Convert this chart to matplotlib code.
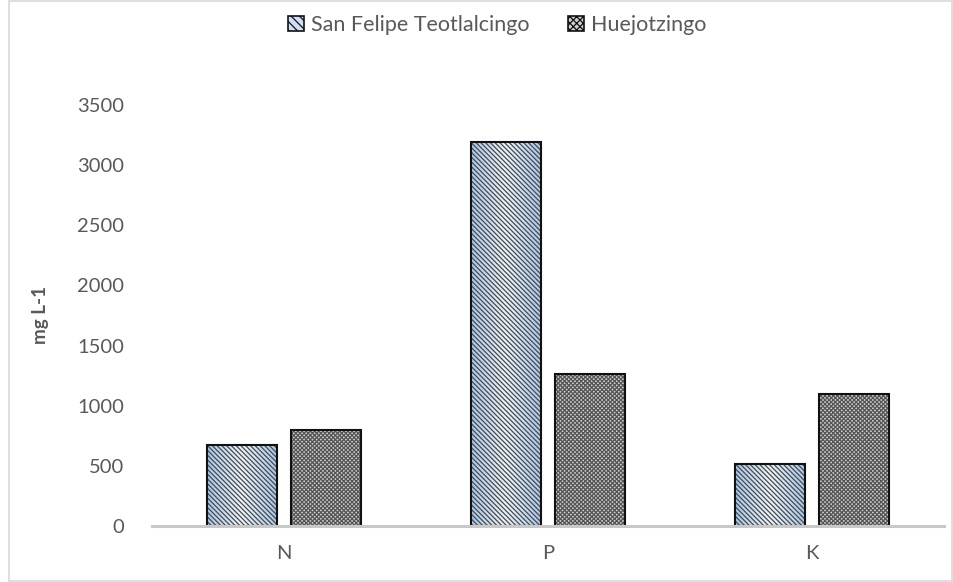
import numpy as np
import matplotlib.pyplot as plt
from matplotlib.colors import LinearSegmentedColormap
from matplotlib.patches import Rectangle

plt.rcParams["font.family"] = ["Lato", "DejaVu Sans"]
plt.rcParams["hatch.linewidth"] = 0.9

# datos
nutrientes = ["N", "P", "K"]
san_felipe = [670, 3190, 515]
huejotzingo = [800, 1260, 1100]
series = ["San Felipe Teotlalcingo", "Huejotzingo"]

txt = "#595959"
x = np.arange(len(nutrientes))
w = 0.265
off = 0.159

fig = plt.figure(figsize=(9.54, 5.82), dpi=100)
ax = fig.add_axes([152 / 954, 1 - 526 / 582, 792 / 954, 421 / 582])

# marco exterior del gráfico
fig.patches.append(Rectangle((9 / 954, 0.002), 943 / 954, 0.996, transform=fig.transFigure,
                             fill=False, edgecolor="#d9d9d9", linewidth=1.2))

# degradado azul para la primera serie
cmap = LinearSegmentedColormap.from_list("azul", ["#a9c8ec", "#eef5fc", "#a9c8ec"])
grad = np.linspace(0, 1, 64).reshape(1, -1)

b1 = ax.bar(x - off, san_felipe, w, facecolor="none", edgecolor="#4a4a4a",
            hatch="\\" * 7, linewidth=0, label=series[0], zorder=3)
for bar in b1:
    im = ax.imshow(grad, cmap=cmap, aspect="auto", zorder=2,
                   extent=[bar.get_x(), bar.get_x() + bar.get_width(), 0, bar.get_height()])
    im.set_clip_path(bar)

b2 = ax.bar(x + off, huejotzingo, w, facecolor="#cfcfcf", edgecolor="#555555",
            hatch="x" * 8, linewidth=0, label=series[1], zorder=3)

# contornos negros de las barras
for bar in list(b1) + list(b2):
    ax.add_patch(Rectangle((bar.get_x(), 0), bar.get_width(), bar.get_height(),
                           fill=False, edgecolor="#111111", linewidth=1.5, zorder=4))

ax.set_xlim(-0.5, 2.5)
ax.set_ylim(0, 3500)
ax.set_yticks(np.arange(0, 3501, 500))
ax.set_xticks(x)
ax.set_xticklabels(nutrientes)
ax.tick_params(axis="both", length=0, labelsize=14.5, colors=txt)
ax.tick_params(axis="y", pad=20)
ax.tick_params(axis="x", pad=14)
for s in ["top", "right", "left"]:
    ax.spines[s].set_visible(False)
ax.spines["bottom"].set_color("#c8c8c8")
ax.spines["bottom"].set_linewidth(2.2)
ax.spines["bottom"].set_zorder(5)

ax.set_ylabel("mg L-1", fontsize=13.5, fontweight="bold", color=txt, labelpad=20)

h1 = Rectangle((0, 0), 1, 1, facecolor="#cfe0f4", edgecolor="#111111", hatch="\\" * 4, linewidth=1.2)
h2 = Rectangle((0, 0), 1, 1, facecolor="#cfcfcf", edgecolor="#111111", hatch="x" * 5, linewidth=1.2)
leg = fig.legend(handles=[h1, h2], labels=series, loc="center", bbox_to_anchor=(497 / 954, 1 - 25 / 582),
                 ncol=2, frameon=False, fontsize=15.5, handlelength=0.75, handleheight=0.75,
                 handletextpad=0.3, columnspacing=1.8, labelcolor=txt)

fig.savefig("out.png", dpi=100)
